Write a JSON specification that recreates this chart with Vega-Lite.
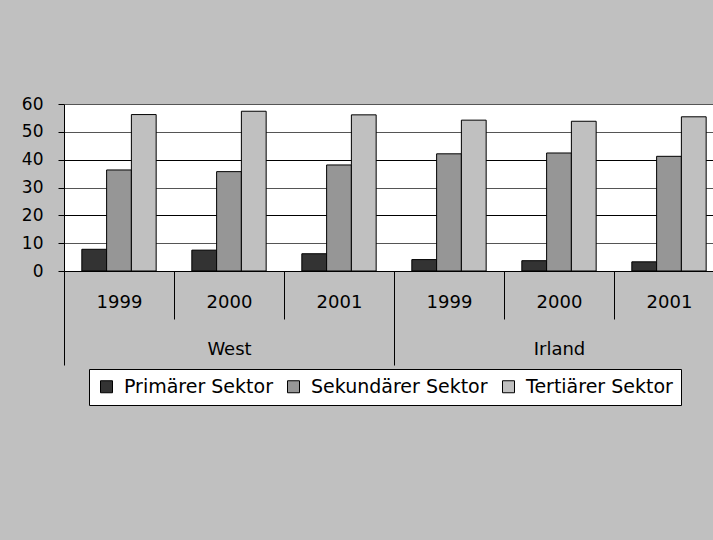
{
  "$schema": "https://vega.github.io/schema/vega-lite/v6.json",
  "width": 660,
  "height": 167,
  "autosize": {"type": "none"},
  "padding": {"left": 64, "top": 104, "right": 0, "bottom": 269},
  "background": "#C0C0C0",
  "config": {
    "view": {"fill": "white", "stroke": null},
    "font": "DejaVu Sans",
    "axis": {"labelColor": "black", "tickColor": "black", "domainColor": "black", "labelFont": "DejaVu Sans"},
    "legend": {"labelFont": "DejaVu Sans"}
  },
  "data": {
    "values": [
      {"region": "West", "year": "1999", "grp": "West 1999", "sector": "Primärer Sektor", "value": 7.8},
      {"region": "West", "year": "1999", "grp": "West 1999", "sector": "Sekundärer Sektor", "value": 36.3},
      {"region": "West", "year": "1999", "grp": "West 1999", "sector": "Tertiärer Sektor", "value": 56.2},
      {"region": "West", "year": "2000", "grp": "West 2000", "sector": "Primärer Sektor", "value": 7.5},
      {"region": "West", "year": "2000", "grp": "West 2000", "sector": "Sekundärer Sektor", "value": 35.7},
      {"region": "West", "year": "2000", "grp": "West 2000", "sector": "Tertiärer Sektor", "value": 57.4},
      {"region": "West", "year": "2001", "grp": "West 2001", "sector": "Primärer Sektor", "value": 6.2},
      {"region": "West", "year": "2001", "grp": "West 2001", "sector": "Sekundärer Sektor", "value": 38.1},
      {"region": "West", "year": "2001", "grp": "West 2001", "sector": "Tertiärer Sektor", "value": 56.1},
      {"region": "Irland", "year": "1999", "grp": "Irland 1999", "sector": "Primärer Sektor", "value": 4.1},
      {"region": "Irland", "year": "1999", "grp": "Irland 1999", "sector": "Sekundärer Sektor", "value": 42.1},
      {"region": "Irland", "year": "1999", "grp": "Irland 1999", "sector": "Tertiärer Sektor", "value": 54.2},
      {"region": "Irland", "year": "2000", "grp": "Irland 2000", "sector": "Primärer Sektor", "value": 3.7},
      {"region": "Irland", "year": "2000", "grp": "Irland 2000", "sector": "Sekundärer Sektor", "value": 42.4},
      {"region": "Irland", "year": "2000", "grp": "Irland 2000", "sector": "Tertiärer Sektor", "value": 53.8},
      {"region": "Irland", "year": "2001", "grp": "Irland 2001", "sector": "Primärer Sektor", "value": 3.3},
      {"region": "Irland", "year": "2001", "grp": "Irland 2001", "sector": "Sekundärer Sektor", "value": 41.2},
      {"region": "Irland", "year": "2001", "grp": "Irland 2001", "sector": "Tertiärer Sektor", "value": 55.4}
    ]
  },
  "encoding": {
    "y": {
      "field": "value", "type": "quantitative",
      "scale": {"domain": [0, 60], "nice": false},
      "axis": {
        "values": [0, 10, 20, 30, 40, 50, 60], "title": null, "tickSize": 6, "labelPadding": 15,
        "labelFontSize": 17, "grid": true, "labelOverlap": false,
        "gridColor": {"condition": {"test": "datum.value == 20 || datum.value == 40", "value": "black"}, "value": "#555555"}
      }
    },
    "xOffset": {
      "field": "sector", "type": "nominal",
      "scale": {"domain": ["Primärer Sektor", "Sekundärer Sektor", "Tertiärer Sektor"], "paddingInner": 0, "paddingOuter": 0.72}
    }
  },
  "layer": [
    {
      "mark": {"type": "bar", "stroke": "black", "strokeWidth": 1},
      "encoding": {
        "x": {
          "field": "grp", "type": "nominal", "sort": null,
          "scale": {"domain": ["West 1999", "West 2000", "West 2001", "Irland 1999", "Irland 2000", "Irland 2001"], "paddingInner": 0, "paddingOuter": 0},
          "axis": {
            "orient": "bottom", "title": null, "tickBand": "extent", "tickSize": 48, "grid": false,
            "labelExpr": "split(datum.label, ' ')[1]", "labelBaseline": "middle", "labelPadding": -17,
            "labelFontSize": 18, "labelAngle": 0, "domain": true
          }
        },
        "color": {
          "field": "sector", "type": "nominal",
          "scale": {"domain": ["Primärer Sektor", "Sekundärer Sektor", "Tertiärer Sektor"], "range": ["#333333", "#969696", "#C0C0C0"]},
          "legend": {
            "title": null, "orient": "none", "legendX": 25, "legendY": 265, "direction": "horizontal",
            "fillColor": "white", "strokeColor": "black", "padding": 8, "symbolType": "square",
            "symbolSize": 144, "symbolStrokeColor": "black", "symbolStrokeWidth": 1, "symbolOpacity": 1,
            "labelFontSize": 19, "labelOffset": 8, "columnPadding": 11, "labelColor": "black", "labelLimit": 400
          }
        }
      }
    },
    {
      "mark": {"type": "bar", "opacity": 0},
      "encoding": {
        "x": {
          "field": "grp", "type": "nominal", "sort": null,
          "axis": {
            "orient": "bottom", "title": null, "tickBand": "extent", "tickSize": 94, "grid": false,
            "tickOpacity": {"condition": {"test": "datum.extra || datum.value == 'West 2001' || datum.value == 'Irland 2001'", "value": 1}, "value": 0},
            "labelExpr": "datum.label == 'West 2000' ? 'West' : (datum.label == 'Irland 2000' ? 'Irland' : '')",
            "labelBaseline": "middle", "labelPadding": -16, "labelFontSize": 18, "labelAngle": 0, "domain": false
          }
        }
      }
    }
  ],
  "resolve": {"axis": {"x": "independent"}}
}
